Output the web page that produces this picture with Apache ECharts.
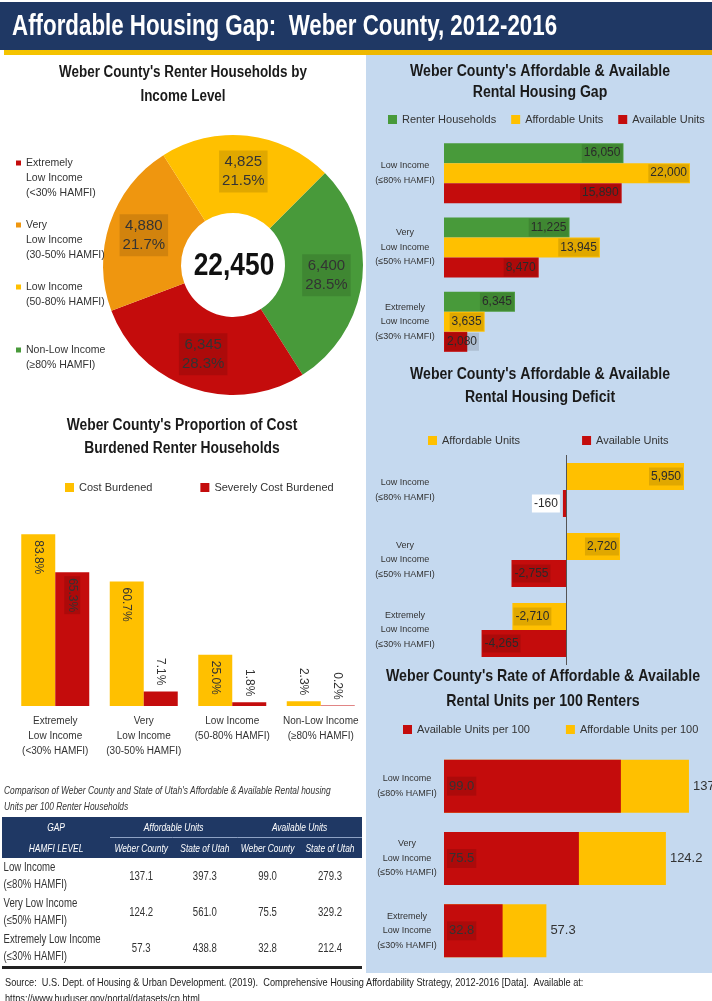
<!DOCTYPE html>
<html lang="en">
<head>
<meta charset="UTF-8">
<title>Affordable Housing Gap: Weber County, 2012-2016</title>
<script src="https://cdn.jsdelivr.net/npm/echarts@6/dist/echarts.min.js"></script>
<style>
  body { margin: 0; padding: 0; background: #fff; font-family: "Liberation Sans", Arial, sans-serif; }
  #page { position: relative; width: 712px; height: 1001px; overflow: hidden; }
  #chart { position: absolute; left: 0; top: 0; width: 712px; height: 1001px; }
  /* no condensed font is available, so the html text is squeezed horizontally */
  .squeeze { transform: scaleX(0.8); transform-origin: 0 0; }
  .caption { position: absolute; left: 4px; top: 782px; width: 440px; font-size: 10.5px; line-height: 16px; font-style: italic; color: #333; white-space: nowrap; }
  .headBg { position: absolute; left: 2px; top: 817px; width: 360px; height: 41px; background: #1f3864; }
  .tableRule { position: absolute; left: 2px; top: 966px; width: 360px; height: 3px; background: #222; }
  #gapTable { position: absolute; left: 2px; top: 817px; width: 450px; border-collapse: collapse; table-layout: fixed; color: #333; }
  #gapTable th { background: transparent; color: #fff; font-style: italic; font-weight: normal; font-size: 10.5px; height: 20px; padding: 0; }
  #gapTable th.grp { border-bottom: 1px solid #8ea2c4; }
  #gapTable td { height: 36px; padding: 0; font-size: 12px; text-align: center; }
  #gapTable td.lvl { text-align: left; line-height: 17px; padding-left: 2px; }
  .source { position: absolute; left: 5px; top: 974px; font-size: 11.5px; line-height: 16px; color: #222; white-space: pre; }
</style>
</head>
<body>
<div id="page">
  <div id="chart"></div>
  <div class="caption squeeze">Comparison of Weber County and State of Utah's Affordable &amp; Available Rental housing<br>Units per 100 Renter Households</div>
  <div class="headBg"></div>
  <table id="gapTable" class="squeeze">
    <colgroup><col style="width:135px"><col style="width:78px"><col style="width:81px"><col style="width:76px"><col style="width:80px"></colgroup>
    <thead>
      <tr><th>GAP</th><th colspan="2" class="grp">Affordable Units</th><th colspan="2" class="grp">Available Units</th></tr>
      <tr><th>HAMFI LEVEL</th><th>Weber County</th><th>State of Utah</th><th>Weber County</th><th>State of Utah</th></tr>
    </thead>
    <tbody id="tbody"></tbody>
  </table>
  <div class="tableRule"></div>
  <div class="source squeeze">Source:  U.S. Dept. of Housing &amp; Urban Development. (2019).  Comprehensive Housing Affordability Strategy, 2012-2016 [Data].  Available at:
https://www.huduser.gov/portal/datasets/cp.html</div>
</div>

<script>
  const FONT = '"Liberation Sans", Arial, sans-serif';

  const GREEN = '#489a3a';
  const YELLOW = '#ffc000';
  const RED = '#c40c0c';
  const ORANGE = '#ef960f';
  const LABEL_BG = 'rgba(0,0,0,0.12)';

  // renter households by income level (donut)
  const pieNames = ['Non-Low Income\n(≥80% HAMFI)', 'Extremely\nLow Income\n(<30% HAMFI)', 'Very\nLow Income\n(30-50% HAMFI)', 'Low Income\n(50-80% HAMFI)'];
  const pieValues = [6400, 6345, 4880, 4825];
  const pieColors = [GREEN, RED, ORANGE, YELLOW];

  // affordable & available rental housing gap
  const gapCats = ['Low Income\n(≤80% HAMFI)', 'Very\nLow Income\n(≤50% HAMFI)', 'Extremely\nLow Income\n(≤30% HAMFI)'];
  const renterHouseholds = [16050, 11225, 6345];
  const affordableUnits = [22000, 13945, 3635];
  const availableUnits = [15890, 8470, 2080];

  // deficit
  const deficitAffordable = [5950, 2720, -2710];
  const deficitAvailable = [-160, -2755, -4265];

  // units per 100 renters
  const availablePer100 = [99.0, 75.5, 32.8];
  const affordablePer100 = [137.1, 124.2, 57.3];

  // cost burdened
  const costCats = ['Extremely\nLow Income\n(<30% HAMFI)', 'Very\nLow Income\n(30-50% HAMFI)', 'Low Income\n(50-80% HAMFI)', 'Non-Low Income\n(≥80% HAMFI)'];
  const costBurdened = [83.8, 60.7, 25.0, 2.3];
  const severelyBurdened = [65.3, 7.1, 1.8, 0.2];

  // comparison table
  const tableLevels = [['Low Income', '(≤80% HAMFI)'], ['Very Low Income', '(≤50% HAMFI)'], ['Extremely Low Income', '(≤30% HAMFI)']];
  const utahAffordable = [397.3, 561.0, 438.8];
  const utahAvailable = [279.3, 329.2, 212.4];

  const tbody = document.getElementById('tbody');
  tableLevels.forEach((lvl, i) => {
    const tr = document.createElement('tr');
    const cells = [affordablePer100[i], utahAffordable[i], availablePer100[i], utahAvailable[i]];
    tr.innerHTML = '<td class="lvl">' + lvl[0] + '<br>' + lvl[1] + '</td>' +
      cells.map(v => '<td>' + v.toFixed(1) + '</td>').join('');
    tbody.appendChild(tr);
  });

  const fmt = v => v.toLocaleString('en-US');
  const total = pieValues.reduce((a, b) => a + b, 0);

  function titleText(text, x, y, size, lh, sx) {
    return {
      type: 'text', x: x, y: y, scaleX: sx, z: 5,
      style: { text: text, x: 0, y: 0, fill: '#1a1a1a', fontFamily: FONT, fontWeight: 'bold', fontSize: size, lineHeight: lh, align: 'center', verticalAlign: 'top' }
    };
  }

  function catAxis(idx, data, margin) {
    return {
      type: 'category', gridIndex: idx, data: data, inverse: true,
      axisLine: { show: false }, axisTick: { show: false },
      axisLabel: { align: 'center', margin: margin, fontSize: 9, lineHeight: 14.5, color: '#333', fontFamily: FONT }
    };
  }

  const barLabel = {
    show: true, position: 'insideRight', distance: 1, color: '#2a2a2a', fontSize: 12, fontFamily: FONT,
    backgroundColor: LABEL_BG, padding: [3, 2], formatter: p => fmt(p.value)
  };

  const legendBase = { icon: 'rect', itemWidth: 9, itemHeight: 9, padding: 0, width: 340, textStyle: { fontSize: 11, color: '#333', fontFamily: FONT } };

  // icon path keeps the square level with the first text line
  function pieLegend(name, top, lines) {
    const h = lines === 3 ? 35 : 20;
    return {
      data: [name], left: 16, top: top, orient: 'vertical', padding: 0,
      icon: 'path://M0,0h5v5h-5zM0,' + h + 'h0.01v0.01h-0.01z', itemWidth: 5, itemHeight: h,
      textStyle: { fontSize: 10.5, lineHeight: 15, color: '#333', fontFamily: FONT }
    };
  }

  const chart = echarts.init(document.getElementById('chart'));

  const option = {
    animation: false,
    textStyle: { fontFamily: FONT },
    graphic: [
      { type: 'rect', shape: { x: 0, y: 2, width: 712, height: 48 }, style: { fill: '#1f3864' }, z: 0 },
      { type: 'rect', shape: { x: 4, y: 50, width: 708, height: 5 }, z: 0,
        style: { fill: new echarts.graphic.LinearGradient(0, 0, 1, 0, [{ offset: 0, color: '#f5c400' }, { offset: 1, color: '#e8ad00' }]) } },
      { type: 'rect', shape: { x: 366, y: 55, width: 346, height: 918 }, style: { fill: '#c5d9ef' }, z: 0 },
      { type: 'text', x: 12, y: 27, scaleX: 0.77, z: 5,
        style: { text: 'Affordable Housing Gap:  Weber County, 2012-2016', x: 0, y: 0, fill: '#fff', fontFamily: FONT, fontWeight: 'bold', fontSize: 29, verticalAlign: 'middle' } },
      titleText("Weber County's Renter Households by\nIncome Level", 183, 61, 16, 24, 0.84),
      titleText("Weber County's Affordable & Available\nRental Housing Gap", 540, 61, 16, 21, 0.88),
      titleText("Weber County's Affordable & Available\nRental Housing Deficit", 540, 363, 16, 23, 0.88),
      titleText("Weber County's Rate of Affordable & Available\nRental Units per 100 Renters", 543, 664, 17, 25, 0.835),
      titleText("Weber County's Proportion of Cost\nBurdened Renter Households", 182, 414, 16, 23, 0.865),
      { type: 'text', x: 234, y: 266, scaleX: 0.85, z: 5,
        style: { text: fmt(total), x: 0, y: 0, fill: '#111', fontFamily: FONT, fontWeight: 'bold', fontSize: 31, align: 'center', verticalAlign: 'middle' } }
    ],
    legend: [
      Object.assign({ data: ['Renter Households', 'Affordable Units', 'Available Units'], left: 388, top: 114, itemGap: 15 }, legendBase),
      Object.assign({ data: ['Affordable Units', 'Available Units'], left: 428, top: 435, itemGap: 62 }, legendBase),
      Object.assign({ data: ['Available Units per 100', 'Affordable Units per 100'], left: 403, top: 724, itemGap: 36 }, legendBase),
      Object.assign({ data: ['Cost Burdened', 'Severely Cost Burdened'], left: 65, top: 482, itemGap: 48 }, legendBase),
      pieLegend(pieNames[1], 155.5, 3),
      pieLegend(pieNames[2], 217.5, 3),
      pieLegend(pieNames[3], 279.5, 2),
      pieLegend(pieNames[0], 342.5, 2)
    ],
    grid: [
      { left: 444, top: 136, width: 246, height: 223 },
      { left: 467, top: 455, width: 218, height: 210 },
      { left: 444, top: 750, width: 280, height: 217 },
      { left: 11, top: 501, width: 354, height: 205 }
    ],
    xAxis: [
      { type: 'value', gridIndex: 0, min: 0, max: 22000, show: false },
      { type: 'value', gridIndex: 1, min: -5000, max: 6000, show: false },
      { type: 'value', gridIndex: 2, min: 0, max: 150, show: false },
      { type: 'category', gridIndex: 3, data: costCats, axisLine: { show: false }, axisTick: { show: false },
        axisLabel: { margin: 8, fontSize: 10, lineHeight: 15, color: '#333', fontFamily: FONT, interval: 0 } }
    ],
    yAxis: [
      catAxis(0, gapCats, 39),
      catAxis(1, gapCats, 62),
      catAxis(2, gapCats, 37),
      { type: 'value', gridIndex: 3, min: 0, max: 100, show: false }
    ],
    series: [
      {
        type: 'pie', center: [233, 265], radius: [52, 130], startAngle: 45, percentPrecision: 1,
        data: pieNames.map((n, i) => ({ name: n, value: pieValues[i], itemStyle: { color: pieColors[i] } })),
        label: {
          position: 'inside', color: '#333', fontSize: 15, lineHeight: 19, fontFamily: FONT,
          backgroundColor: LABEL_BG, padding: [2, 3],
          formatter: p => fmt(p.value) + '\n' + p.percent.toFixed(1) + '%'
        },
        labelLine: { show: false }
      },
      { name: 'Renter Households', type: 'bar', xAxisIndex: 0, yAxisIndex: 0, barWidth: 20, barGap: '0%',
        itemStyle: { color: GREEN }, label: barLabel, data: renterHouseholds },
      { name: 'Affordable Units', type: 'bar', xAxisIndex: 0, yAxisIndex: 0, barWidth: 20, barGap: '0%',
        itemStyle: { color: YELLOW }, label: barLabel, data: affordableUnits },
      { name: 'Available Units', type: 'bar', xAxisIndex: 0, yAxisIndex: 0, barWidth: 20, barGap: '0%',
        itemStyle: { color: RED }, label: barLabel,
        data: availableUnits.map(v => v < 4000 ? { value: v, label: { position: 'insideLeft' } } : v) },
      { name: 'Affordable Units', type: 'bar', xAxisIndex: 1, yAxisIndex: 1, barWidth: 27, barGap: '0%',
        itemStyle: { color: YELLOW }, label: barLabel,
        data: deficitAffordable.map(v => ({ value: v, label: { position: v < 0 ? 'insideLeft' : 'insideRight' } })),
        markLine: { silent: true, symbol: ['none', 'none'], label: { show: false },
          lineStyle: { color: '#555', type: 'solid', width: 1 }, data: [{ xAxis: 0 }] } },
      { name: 'Available Units', type: 'bar', xAxisIndex: 1, yAxisIndex: 1, barWidth: 27, barGap: '0%',
        itemStyle: { color: RED }, label: barLabel,
        data: deficitAvailable.map(v => ({ value: v, label: v > -1000
          ? { position: 'left', backgroundColor: '#fff', distance: 3 }
          : { position: 'insideLeft' } })) },
      { name: 'Affordable Units per 100', type: 'bar', xAxisIndex: 2, yAxisIndex: 2, barWidth: 53, barGap: '-100%',
        itemStyle: { color: YELLOW },
        label: { show: true, position: 'right', distance: 4, color: '#333', fontSize: 13, fontFamily: FONT, formatter: p => p.value.toFixed(1) },
        data: affordablePer100 },
      { name: 'Available Units per 100', type: 'bar', xAxisIndex: 2, yAxisIndex: 2, barWidth: 53, barGap: '-100%',
        itemStyle: { color: RED },
        label: { show: true, position: 'insideLeft', distance: 3, color: '#333', fontSize: 13, fontFamily: FONT,
          backgroundColor: LABEL_BG, padding: [3, 2], formatter: p => p.value.toFixed(1) },
        data: availablePer100 },
      { name: 'Cost Burdened', type: 'bar', xAxisIndex: 3, yAxisIndex: 3, barWidth: 34, barGap: '0%',
        itemStyle: { color: YELLOW },
        data: costBurdened.map(v => ({ value: v, label: costLabel(v, false) })) },
      { name: 'Severely Cost Burdened', type: 'bar', xAxisIndex: 3, yAxisIndex: 3, barWidth: 34, barGap: '0%',
        itemStyle: { color: RED },
        data: severelyBurdened.map(v => ({ value: v, label: costLabel(v, true) })) }
    ]
  };

  function costLabel(v, dark) {
    const inside = v > 20;
    return {
      show: true, rotate: -90, fontSize: 12, fontFamily: FONT, color: '#333',
      position: inside ? 'insideTop' : 'top', distance: 4,
      align: inside ? 'left' : 'right', verticalAlign: 'middle',
      backgroundColor: inside && dark ? LABEL_BG : 'transparent', padding: [2, 2],
      formatter: p => p.value.toFixed(1) + '%'
    };
  }

  chart.setOption(option);
</script>
</body>
</html>
